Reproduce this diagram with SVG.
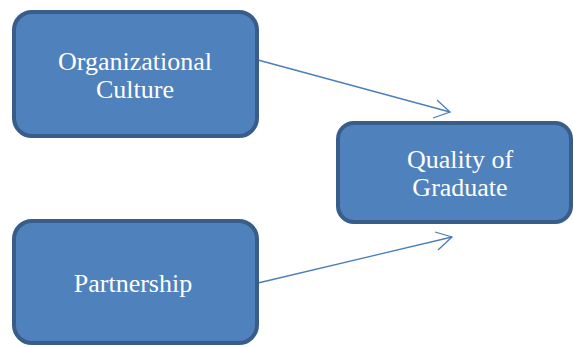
<svg xmlns="http://www.w3.org/2000/svg" width="574" height="347" viewBox="0 0 574 347">
<defs>
<style>
.box{fill:#4f81bd;stroke:#385d8a;stroke-width:4}
.lbl{fill:#ffffff;font-family:"Liberation Serif","Times New Roman",serif;font-size:26px;text-anchor:middle}
.conn{stroke:#4a7ebb;stroke-width:1.3;fill:none}
</style>
</defs>
<rect width="574" height="347" fill="#ffffff"/>
<g id="connectors">
<line class="conn" x1="258" y1="60" x2="450" y2="112"/>
<polyline class="conn" points="437,100 450,112 433,118"/>
<line class="conn" x1="258" y1="283" x2="452" y2="237"/>
<polyline class="conn" points="435,232 452,237 438,250"/>
</g>
<g id="node-org">
<rect class="box" x="14" y="12" width="243" height="124" rx="18"/>
<text class="lbl" x="135" y="70">Organizational</text>
<text class="lbl" x="135" y="98">Culture</text>
</g>
<g id="node-quality">
<rect class="box" x="338" y="123" width="233" height="99" rx="16"/>
<text class="lbl" x="460" y="168">Quality of</text>
<text class="lbl" x="460" y="196">Graduate</text>
</g>
<g id="node-partnership">
<rect class="box" x="14" y="221" width="243" height="122" rx="18"/>
<text class="lbl" x="133" y="292">Partnership</text>
</g>
</svg>
